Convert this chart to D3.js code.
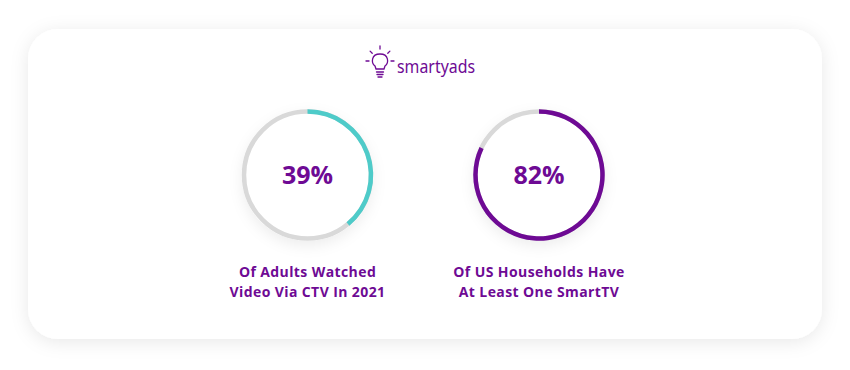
<!DOCTYPE html>
<html>
<head>
<meta charset="utf-8">
<script src="https://cdn.jsdelivr.net/npm/d3@7"></script>
<style>
  html, body { margin: 0; padding: 0; background: #ffffff; }
  svg { display: block; }
</style>
</head>
<body>
<div id="chart"></div>
<script>
// chart data
const values = [39, 82];
const lines1 = ["Of Adults Watched", "Of US Households Have"];
const lines2 = ["Video Via CTV In 2021", "At Least One SmartTV"];
const arcColors = ["#4ecbc9", "#6e0a94"];
const brand = "smartyads";

const W = 850, H = 370;
const purple = "#6e0a94";

const svg = d3.select("#chart").append("svg")
    .attr("width", W).attr("height", H);

const defs = svg.append("defs");
const card = defs.append("filter").attr("id", "cardShadow")
    .attr("x", "-10%").attr("y", "-20%").attr("width", "120%").attr("height", "140%");
card.append("feDropShadow").attr("dx", 0).attr("dy", 3).attr("stdDeviation", 9)
    .attr("flood-color", "#000").attr("flood-opacity", 0.09);

const ring = defs.append("filter").attr("id", "ringShadow")
    .attr("x", "-30%").attr("y", "-30%").attr("width", "160%").attr("height", "170%");
ring.append("feDropShadow").attr("dx", 0).attr("dy", 5).attr("stdDeviation", 7)
    .attr("flood-color", "#000").attr("flood-opacity", 0.07);

// card
svg.append("rect")
    .attr("x", 28).attr("y", 29).attr("width", 794).attr("height", 310)
    .attr("rx", 30).attr("ry", 30)
    .attr("fill", "#fff")
    .attr("filter", "url(#cardShadow)");

// logo: bulb icon + word
const logo = svg.append("g").attr("transform", "translate(380,62)")
    .attr("stroke", purple).attr("fill", "none").attr("stroke-width", 1.3)
    .attr("stroke-linecap", "round");
logo.append("path").attr("d", "M-5,4 C-9,1 -9,-8 0,-8 C9,-8 9,1 5,4 L4,7 L-4,7 Z");
logo.append("line").attr("x1", -3.5).attr("x2", 3.5).attr("y1", 10).attr("y2", 10);
logo.append("line").attr("x1", -3).attr("x2", 3).attr("y1", 12.5).attr("y2", 12.5);
logo.append("line").attr("x1", -2).attr("x2", 2).attr("y1", 15).attr("y2", 15);
[[-90, 12, 15], [-45, 11, 14], [-135, 11, 14], [0, 11, 14], [180, 11, 14]].forEach(([a, r1, r2]) => {
    const t = a * Math.PI / 180;
    logo.append("line")
        .attr("x1", r1 * Math.cos(t)).attr("y1", r1 * Math.sin(t) - 1)
        .attr("x2", r2 * Math.cos(t)).attr("y2", r2 * Math.sin(t) - 1);
});
svg.append("text")
    .attr("x", 397).attr("y", 73)
    .attr("font-family", "'Noto Sans', sans-serif")
    .attr("font-size", 18.5).attr("fill", purple)
    .attr("textLength", 78).attr("lengthAdjust", "spacingAndGlyphs")
    .text(brand);

// rings
const x = d3.scalePoint().domain(d3.range(values.length)).range([307.5, 539]);
const angle = d3.scaleLinear().domain([0, 100]).range([0, 2 * Math.PI]);
const cy = 175, r = 63.5, sw = 4.5;

const arc = d3.arc().innerRadius(r - sw / 2).outerRadius(r + sw / 2);

const g = svg.selectAll("g.ring").data(values).join("g")
    .attr("class", "ring")
    .attr("transform", (d, i) => `translate(${x(i)},${cy})`);

g.append("circle").attr("r", r + sw / 2).attr("fill", "#fff")
    .attr("filter", "url(#ringShadow)");
g.append("circle").attr("r", r).attr("fill", "none")
    .attr("stroke", "#d9d9d9").attr("stroke-width", sw);
g.append("path")
    .attr("d", d => arc({ startAngle: 0, endAngle: angle(d) }))
    .attr("fill", (d, i) => arcColors[i]);

g.append("text")
    .attr("y", 9)
    .attr("text-anchor", "middle")
    .attr("font-family", "'Open Sans', sans-serif")
    .attr("font-weight", 700)
    .attr("font-size", 25)
    .attr("fill", purple)
    .text(d => d + "%");

// captions
const cap = svg.selectAll("g.cap").data(values).join("g")
    .attr("class", "cap")
    .attr("transform", (d, i) => `translate(${x(i)},0)`)
    .attr("text-anchor", "middle")
    .attr("font-family", "'Open Sans', sans-serif")
    .attr("font-weight", 700)
    .attr("font-size", 14)
    .attr("letter-spacing", 0.4)
    .attr("fill", purple);
cap.append("text").attr("y", 277).text((d, i) => lines1[i]);
cap.append("text").attr("y", 297).text((d, i) => lines2[i]);
</script>
</body>
</html>
